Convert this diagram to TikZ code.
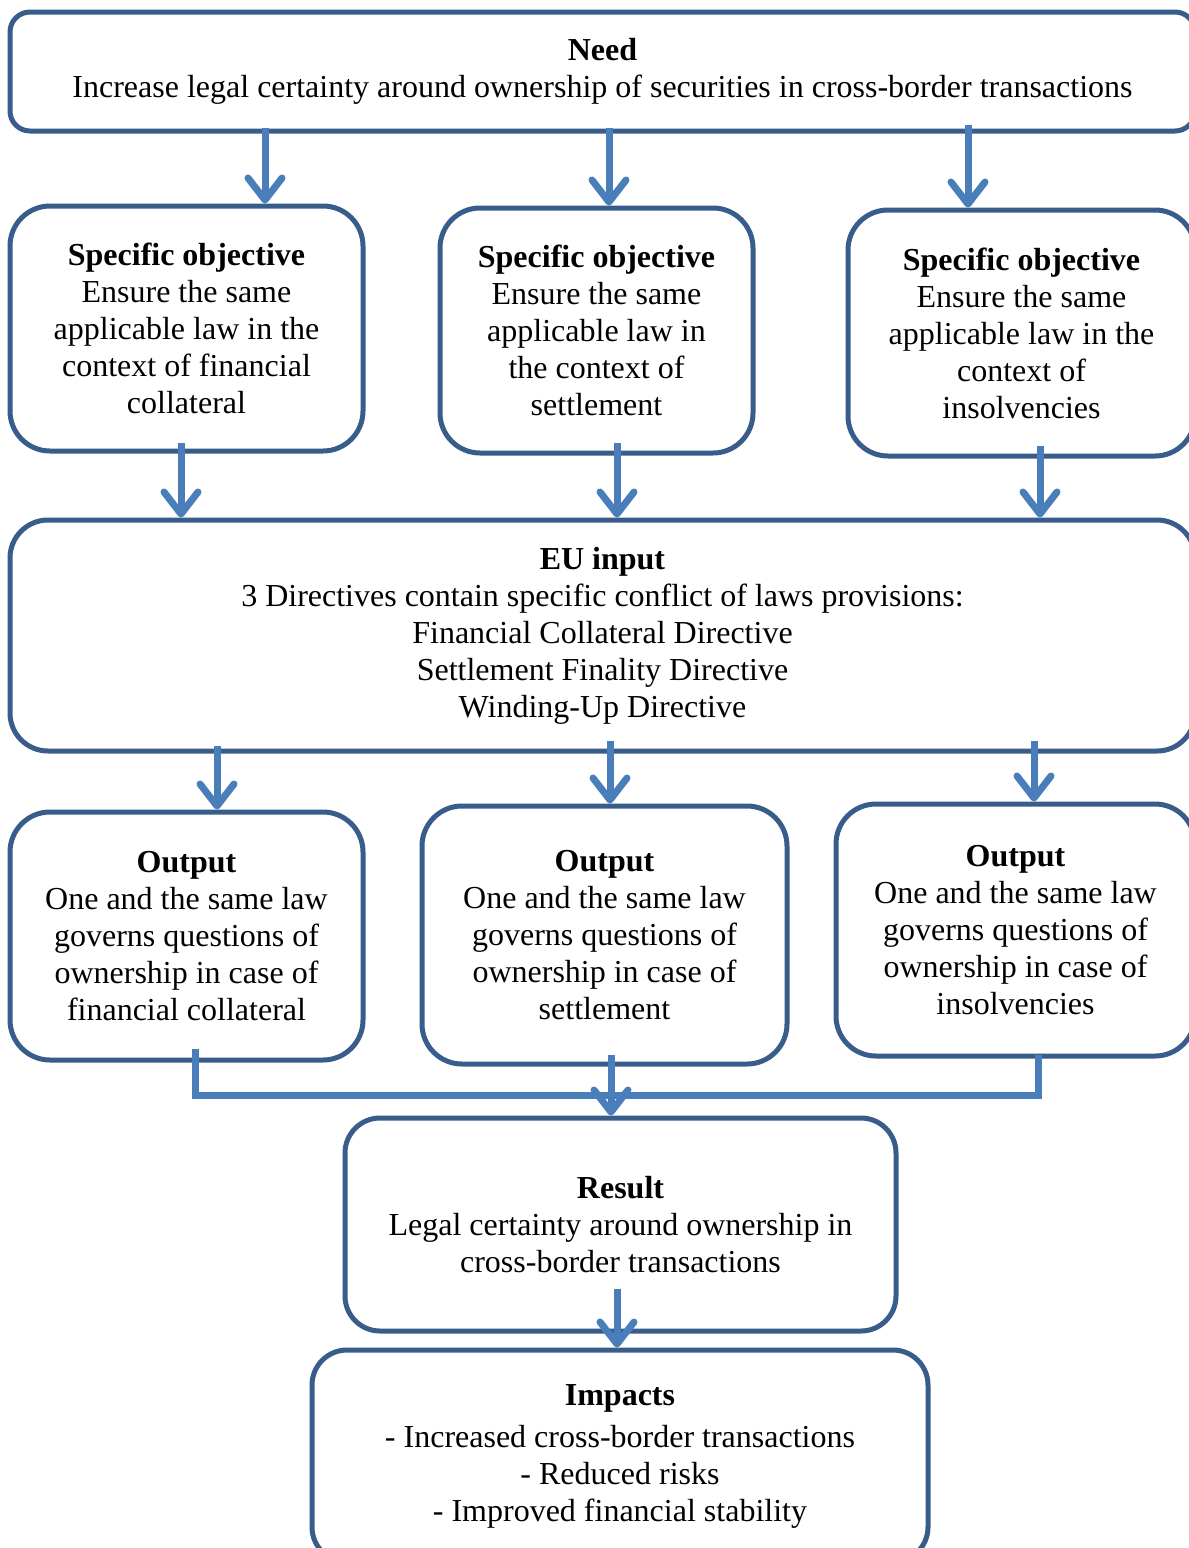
\documentclass[tikz,border=0pt]{standalone}
\usepackage{fontspec}
\setmainfont{Liberation Serif}
\usetikzlibrary{arrows.meta,calc}
\definecolor{boxblue}{HTML}{385D8A}
\definecolor{arrblue}{HTML}{4A7EBB}
\begin{document}
\begin{tikzpicture}[x=0.5pt,y=-0.5pt,
  box/.style={draw=boxblue, line width=2.5pt, align=center, inner sep=0pt,
    font=\fontsize{16}{18.5}\selectfont, rounded corners=20pt},
  arr/.style={draw=arrblue, line width=3.5pt, -{Straight Barb[length=11pt,width=17pt,round]}},
  conn/.style={draw=arrblue, line width=3.5pt}
]
\clip (0,0) rectangle (1189,1548);
\fill[white] (0,0) rectangle (1189,1548);

\node[box, rounded corners=10pt, minimum width=592.5pt, minimum height=59.5pt] (need) at (602.5,71.5)
  {\textbf{Need}\\Increase legal certainty around ownership of securities in cross-border transactions};

\node[box, minimum width=176.5pt, minimum height=122.5pt] (so1) at (186.5,328.5)
  {\textbf{Specific objective}\\Ensure the same\\applicable law in the\\context of financial\\collateral};
\node[box, minimum width=156.5pt, minimum height=122.5pt] (so2) at (596.5,330.5)
  {\textbf{Specific objective}\\Ensure the same\\applicable law in\\the context of\\settlement};
\node[box, minimum width=173.5pt, minimum height=123pt] (so3) at (1021.5,333)
  {\textbf{Specific objective}\\Ensure the same\\applicable law in the\\context of\\insolvencies};

\node[box, rounded corners=19pt, minimum width=592.5pt, minimum height=115.5pt] (eu) at (602.5,635.5)
  {\textbf{EU input}\\3 Directives contain specific conflict of laws provisions:\\Financial Collateral Directive\\Settlement Finality Directive\\Winding-Up Directive};

\node[box, minimum width=176.5pt, minimum height=124pt] (out1) at (186.5,936)
  {\textbf{Output}\\One and the same law\\governs questions of\\ownership in case of\\financial collateral};
\node[box, minimum width=182.5pt, minimum height=129pt] (out2) at (604.5,935)
  {\textbf{Output}\\One and the same law\\governs questions of\\ownership in case of\\settlement};
\node[box, minimum width=179.5pt, minimum height=126pt] (out3) at (1015.5,930)
  {\textbf{Output}\\One and the same law\\governs questions of\\ownership in case of\\insolvencies};

\node[box, rounded corners=17.5pt, minimum width=275.5pt, minimum height=106.5pt] (result) at (620.5,1224.5)
  {\textbf{Result}\\Legal certainty around ownership in\\cross-border transactions};

\node[box, rounded corners=17.5pt, minimum width=308pt, minimum height=106pt] (impacts) at (620,1456)
  {\textbf{Impacts}\\[2.5pt]- Increased cross-border transactions\\- Reduced risks\\- Improved financial stability};

% arrow x positions
\coordinate (a1) at (265,0);
\coordinate (a2) at (609,0);
\coordinate (a3) at (968,0);
\coordinate (b1) at (181,0);
\coordinate (b2) at (617,0);
\coordinate (b3) at (1040,0);
\coordinate (d1) at (217,0);
\coordinate (d2) at (610,0);
\coordinate (d3) at (1034,0);
\coordinate (j1) at (195,1095);
\coordinate (j3) at (1038,1095);
\coordinate (e2) at (611,0);
\coordinate (f2) at (617,0);

\draw[arr] ($(need.south -| a1)+(0,-6)$) -- (so1.north -| a1);
\draw[arr] ($(need.south -| a2)+(0,-6)$) -- (so2.north -| a2);
\draw[arr] ($(need.south -| a3)+(0,-9)$) -- (so3.north -| a3);

\draw[arr] ($(so1.south -| b1)+(0,-11)$) -- (eu.north -| b1);
\draw[arr] ($(so2.south -| b2)+(0,-13)$) -- (eu.north -| b2);
\draw[arr] ($(so3.south -| b3)+(0,-13)$) -- (eu.north -| b3);

\draw[arr] ($(eu.south -| d1)+(0,-8)$) -- (out1.north -| d1);
\draw[arr] ($(eu.south -| d2)+(0,-13)$) -- (out2.north -| d2);
\draw[arr] ($(eu.south -| d3)+(0,-13)$) -- (out3.north -| d3);

\draw[conn] ($(out1.south -| j1)+(0,-14)$) -- (j1) -- (j3) -- ($(out3.south -| j3)+(0,-4)$);
\draw[arr] ($(out2.south -| e2)+(0,-12)$) -- (result.north -| e2);

\draw[arr] ($(result.south -| f2)+(0,-45)$) -- (impacts.north -| f2);
\end{tikzpicture}
\end{document}
